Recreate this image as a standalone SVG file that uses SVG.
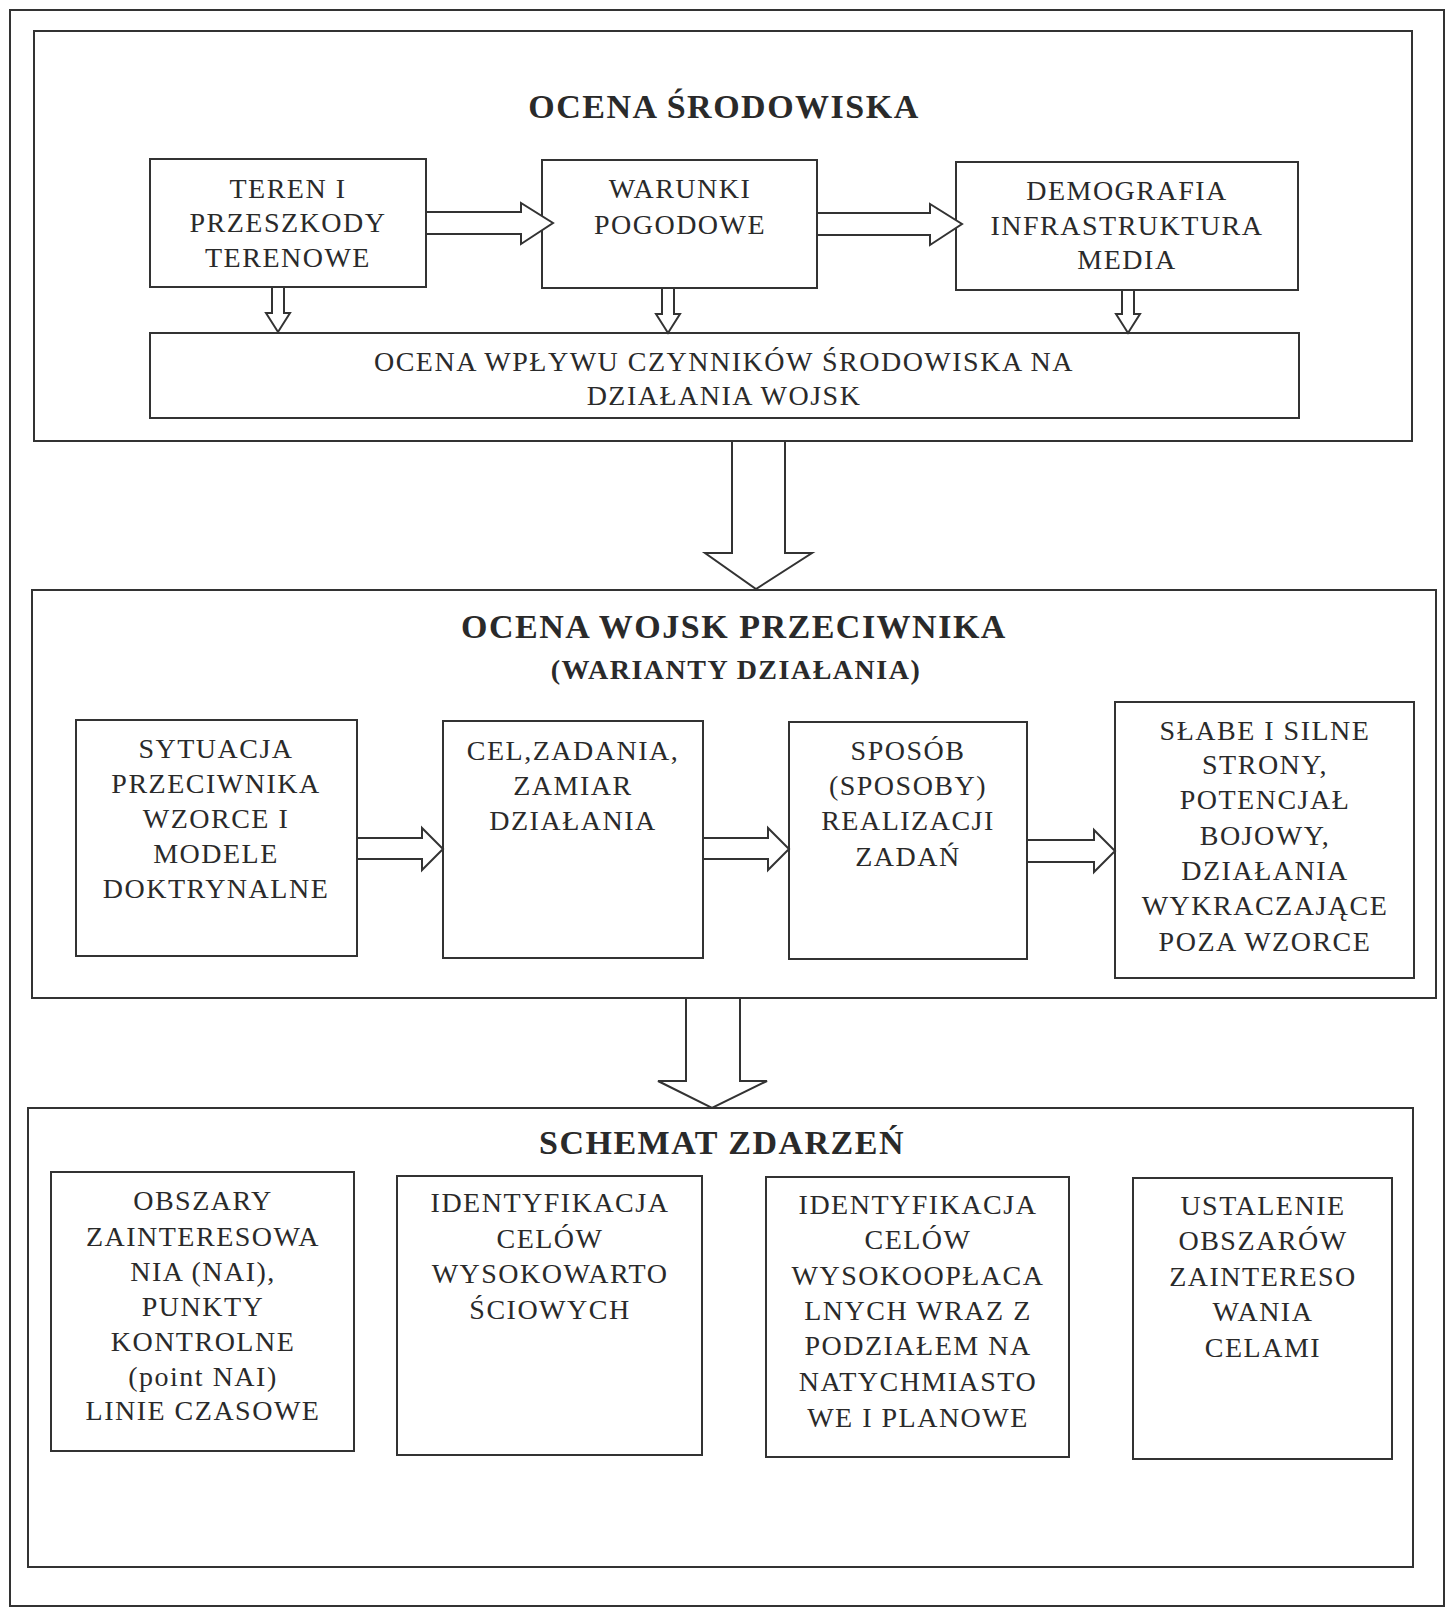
<svg xmlns="http://www.w3.org/2000/svg" width="1445" height="1608" viewBox="0 0 1445 1608">
<style>
.frame{fill:none;stroke:#333;stroke-width:2}
.box{fill:#fff;stroke:#333;stroke-width:2}
.arr{fill:#fff;stroke:#333;stroke-width:2;stroke-linejoin:miter}
text{font-family:"Liberation Serif","Times New Roman",serif;fill:#2a2a2a;text-anchor:middle}
.t{font-size:28px;letter-spacing:1.5px}
.h{font-size:34px;font-weight:bold;letter-spacing:1.5px}
.h2{font-size:28px;font-weight:bold;letter-spacing:1.5px}
</style>
<rect width="1445" height="1608" fill="#fff"/>
<rect class="frame" x="10" y="10" width="1434" height="1596"/>

<g id="sec1">
<rect class="frame" x="34" y="31" width="1378" height="410"/>
<text class="h" x="724" y="118">OCENA ŚRODOWISKA</text>
</g>
<g id="teren">
<rect class="box" x="150" y="159" width="276" height="128"/>
<text class="t" x="288" y="198">TEREN I</text>
<text class="t" x="288" y="232">PRZESZKODY</text>
<text class="t" x="288" y="267">TERENOWE</text>
</g>
<g id="warunki">
<rect class="box" x="542" y="160" width="275" height="128"/>
<text class="t" x="680" y="198">WARUNKI</text>
<text class="t" x="680" y="234">POGODOWE</text>
</g>
<g id="demografia">
<rect class="box" x="956" y="162" width="342" height="128"/>
<text class="t" x="1127" y="200">DEMOGRAFIA</text>
<text class="t" x="1127" y="235">INFRASTRUKTURA</text>
<text class="t" x="1127" y="269">MEDIA</text>
</g>
<g id="ocena-wplywu">
<rect class="box" x="150" y="333" width="1149" height="85"/>
<text class="t" x="724" y="371">OCENA WPŁYWU CZYNNIKÓW ŚRODOWISKA NA</text>
<text class="t" x="724" y="405">DZIAŁANIA WOJSK</text>
</g>

<g id="sec2">
<rect class="frame" x="32" y="590" width="1404" height="408"/>
<text class="h" x="734" y="638">OCENA WOJSK PRZECIWNIKA</text>
<text class="h2" x="736" y="679">(WARIANTY DZIAŁANIA)</text>
</g>
<g id="sytuacja">
<rect class="box" x="76" y="720" width="281" height="236"/>
<text class="t" x="216" y="758">SYTUACJA</text>
<text class="t" x="216" y="793">PRZECIWNIKA</text>
<text class="t" x="216" y="828">WZORCE I</text>
<text class="t" x="216" y="863">MODELE</text>
<text class="t" x="216" y="898">DOKTRYNALNE</text>
</g>
<g id="cel">
<rect class="box" x="443" y="721" width="260" height="237"/>
<text class="t" x="573" y="760">CEL,ZADANIA,</text>
<text class="t" x="573" y="795">ZAMIAR</text>
<text class="t" x="573" y="830">DZIAŁANIA</text>
</g>
<g id="sposob">
<rect class="box" x="789" y="722" width="238" height="237"/>
<text class="t" x="908" y="760">SPOSÓB</text>
<text class="t" x="908" y="795">(SPOSOBY)</text>
<text class="t" x="908" y="830">REALIZACJI</text>
<text class="t" x="908" y="866">ZADAŃ</text>
</g>
<g id="slabe">
<rect class="box" x="1115" y="702" width="299" height="276"/>
<text class="t" x="1265" y="740">SŁABE I SILNE</text>
<text class="t" x="1265" y="774">STRONY,</text>
<text class="t" x="1265" y="809">POTENCJAŁ</text>
<text class="t" x="1265" y="845">BOJOWY,</text>
<text class="t" x="1265" y="880">DZIAŁANIA</text>
<text class="t" x="1265" y="915">WYKRACZAJĄCE</text>
<text class="t" x="1265" y="951">POZA WZORCE</text>
</g>

<g id="sec3">
<rect class="frame" x="28" y="1108" width="1385" height="459"/>
<text class="h" x="722" y="1154">SCHEMAT ZDARZEŃ</text>
</g>
<g id="obszary">
<rect class="box" x="51" y="1172" width="303" height="279"/>
<text class="t" x="203" y="1210">OBSZARY</text>
<text class="t" x="203" y="1246">ZAINTERESOWA</text>
<text class="t" x="203" y="1281">NIA (NAI),</text>
<text class="t" x="203" y="1316">PUNKTY</text>
<text class="t" x="203" y="1351">KONTROLNE</text>
<text class="t" x="203" y="1386">(point NAI)</text>
<text class="t" x="203" y="1420">LINIE CZASOWE</text>
</g>
<g id="ident1">
<rect class="box" x="397" y="1176" width="305" height="279"/>
<text class="t" x="550" y="1212">IDENTYFIKACJA</text>
<text class="t" x="550" y="1248">CELÓW</text>
<text class="t" x="550" y="1283">WYSOKOWARTO</text>
<text class="t" x="550" y="1319">ŚCIOWYCH</text>
</g>
<g id="ident2">
<rect class="box" x="766" y="1177" width="303" height="280"/>
<text class="t" x="918" y="1214">IDENTYFIKACJA</text>
<text class="t" x="918" y="1249">CELÓW</text>
<text class="t" x="918" y="1285">WYSOKOOPŁACA</text>
<text class="t" x="918" y="1320">LNYCH WRAZ Z</text>
<text class="t" x="918" y="1355">PODZIAŁEM NA</text>
<text class="t" x="918" y="1391">NATYCHMIASTO</text>
<text class="t" x="918" y="1427">WE I PLANOWE</text>
</g>
<g id="ustalenie">
<rect class="box" x="1133" y="1178" width="259" height="281"/>
<text class="t" x="1263" y="1215">USTALENIE</text>
<text class="t" x="1263" y="1250">OBSZARÓW</text>
<text class="t" x="1263" y="1286">ZAINTERESO</text>
<text class="t" x="1263" y="1321">WANIA</text>
<text class="t" x="1263" y="1357">CELAMI</text>
</g>

<g id="connectors">
<polygon class="arr" points="426,212 521,212 521,203 553,223 521,244 521,234 426,234"/>
<polygon class="arr" points="817,213 930,213 930,204 962,224 930,245 930,235 817,235"/>
<polygon class="arr" points="272,287 284,287 284,313 290,313 278,332 266,313 272,313"/>
<polygon class="arr" points="662,288 674,288 674,314 680,314 668,333 656,314 662,314"/>
<polygon class="arr" points="1122,290 1134,290 1134,314 1140,314 1128,333 1116,314 1122,314"/>
<polygon class="arr" points="732,441 785,441 785,553 812,553 756,589 705,553 732,553"/>
<polygon class="arr" points="357,838 422,838 422,828 443,849 422,870 422,859 357,859"/>
<polygon class="arr" points="703,838 768,838 768,828 789,849 768,870 768,859 703,859"/>
<polygon class="arr" points="1027,840 1094,840 1094,830 1115,851 1094,872 1094,862 1027,862"/>
<polygon class="arr" points="686,998 740,998 740,1081 767,1081 712,1108 658,1081 686,1081"/>
</g>
</svg>
